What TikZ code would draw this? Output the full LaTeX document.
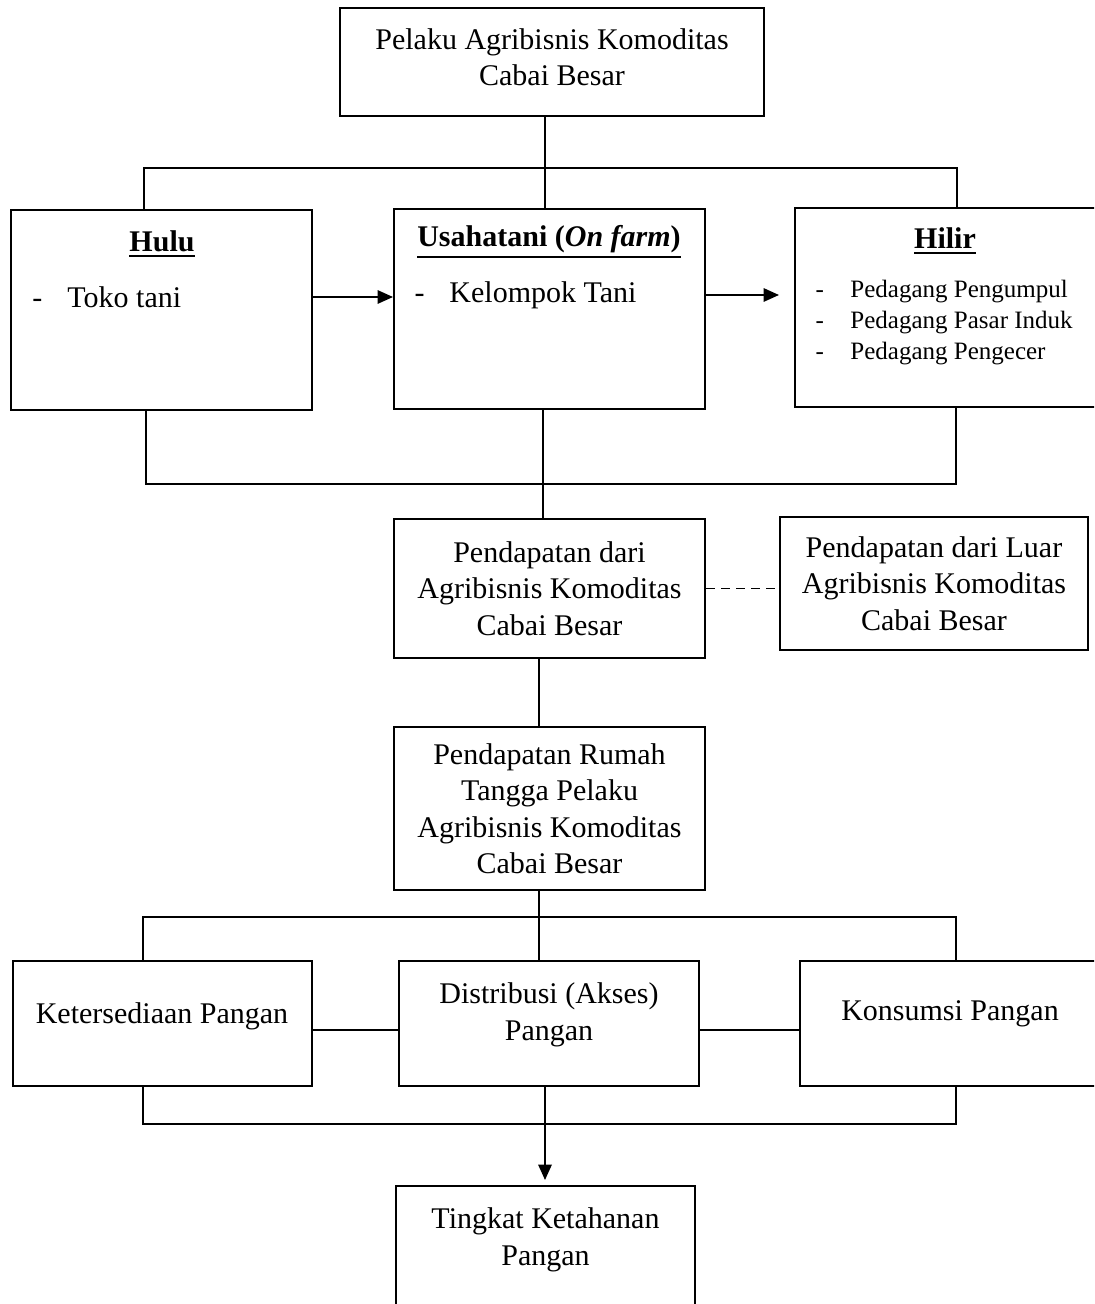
\documentclass[tikz,border=0pt]{standalone}
\usepackage{fontspec}
\setmainfont{Liberation Serif}
\usetikzlibrary{arrows.meta}
\newcommand{\headline}[1]{\setbox0\hbox{#1}\vtop{\copy0\kern1.2pt\hrule width\wd0 height0.9pt}}
\begin{document}
\begin{tikzpicture}[x=0.4pt,y=-0.4pt,>={Triangle[length=6.2pt,width=5.4pt]},
  box/.style={draw,line width=0.8pt,align=center,inner sep=0pt,font=\fontsize{12}{14.6}\selectfont},
  txt/.style={inner sep=0pt,align=center,font=\fontsize{12}{14.6}\selectfont},
  small/.style={inner sep=0pt,align=left,font=\fontsize{10}{12.4}\selectfont},
  line/.style={line width=0.7pt}]
\clip (0,0) rectangle (1094,1304);

% boxes
\node[box,minimum width=169.6pt,minimum height=43.2pt] (pelaku) at (552,62) {};
\node[box,minimum width=120.4pt,minimum height=80pt] (hulu) at (161.5,310) {};
\node[box,minimum width=124.4pt,minimum height=80pt] (usaha) at (549.5,309) {};
\node[box,minimum width=126pt,minimum height=79.6pt] (hilir) at (952.5,307.5) {};
\node[box,minimum width=124.4pt,minimum height=55.6pt] (pend) at (549.5,588.5) {Pendapatan dari\\Agribisnis Komoditas\\Cabai Besar};
\node[box,minimum width=123.2pt,minimum height=53.2pt] (luar) at (934,583.5) {Pendapatan dari Luar\\Agribisnis Komoditas\\Cabai Besar};
\node[box,minimum width=124.4pt,minimum height=65.2pt] (rumah) at (549.5,808.5) {Pendapatan Rumah\\Tangga Pelaku\\Agribisnis Komoditas\\Cabai Besar};
\node[box,minimum width=119.6pt,minimum height=50pt] (ket) at (162.5,1023.5) {};
\node[box,minimum width=120pt,minimum height=50pt] (distr) at (549,1023.5) {};
\node[box,minimum width=124pt,minimum height=50pt] (kons) at (955,1023.5) {};
\node[box,minimum width=119.6pt,minimum height=61.6pt] (tingkat) at (545.5,1263) {};

% texts in the boxes
\node[txt] (pelaku-text) at (552,57) {Pelaku Agribisnis Komoditas\\Cabai Besar};
\node[txt] (hulu-head) at (162,244) {\bfseries\headline{Hulu}};
\node[txt,anchor=west] (hulu-item) at (32,297) {\makebox[14pt][l]{-}Toko tani};
\node[txt] (usaha-head) at (549,242) {\bfseries\headline{Usahatani (\textit{On farm})}};
\node[txt,anchor=west] (usaha-item) at (414,295) {\makebox[14pt][l]{-}Kelompok Tani};
\node[txt] (hilir-head) at (945,241) {\bfseries\headline{Hilir}};
\node[small,anchor=west] (hilir-item) at (815,323) {\makebox[14pt][l]{-}Pedagang Pengumpul\\\makebox[14pt][l]{-}Pedagang Pasar Induk\\\makebox[14pt][l]{-}Pedagang Pengecer};
\node[txt] (ket-text) at (162,1016) {Ketersediaan Pangan};
\node[txt] (distr-text) at (549,1015) {Distribusi (Akses)\\Pangan};
\node[txt] (kons-text) at (950,1014) {Konsumsi Pangan};
\node[txt] (tingkat-text) at (545.5,1240) {Tingkat Ketahanan\\Pangan};

% lines
\coordinate (bus1) at (144,168);
\coordinate (bus2) at (957,168);
\coordinate (bus3) at (146,484);
\coordinate (bus4) at (956,484);
\coordinate (bus5) at (143,917);
\coordinate (bus6) at (956,917);
\coordinate (bus7) at (143,1124);
\coordinate (bus8) at (956,1124);
\coordinate (col1) at (545,0);
\coordinate (col2) at (543,0);
\coordinate (col3) at (539,0);
\coordinate (link) at (0,1030);

\draw[line] (pelaku.south -| col1) -- (usaha.north -| col1);
\draw[line] (bus1 |- hulu.north) -- (bus1) -- (bus2) -- (bus2 |- hilir.north);
\draw[line,->] (hulu-item -| hulu.east) -- (hulu-item -| usaha.west);
\draw[line,->,shorten >=6pt] (usaha-item -| usaha.east) -- (usaha-item -| hilir.west);

\draw[line] (bus3 |- hulu.south) -- (bus3) -- (bus4) -- (bus4 |- hilir.south);
\draw[line] (usaha.south -| col2) -- (pend.north -| col2);
\draw[line,dash pattern=on 3.6pt off 2.4pt] (pend.east) -- (pend.east -| luar.west);
\draw[line] (pend.south -| col3) -- (rumah.north -| col3);

\draw[line] (rumah.south -| col3) -- (distr.north -| col3);
\draw[line] (bus5 |- ket.north) -- (bus5) -- (bus6) -- (bus6 |- kons.north);
\draw[line] (link -| ket.east) -- (link -| distr.west);
\draw[line] (link -| distr.east) -- (link -| kons.west);

\draw[line] (bus7 |- ket.south) -- (bus7) -- (bus8) -- (bus8 |- kons.south);
\draw[line] (distr.south -| col1) -- (bus7 -| col1);
\draw[line,->,shorten >=2pt] (bus7 -| col1) -- (tingkat.north -| col1);
\end{tikzpicture}
\end{document}
